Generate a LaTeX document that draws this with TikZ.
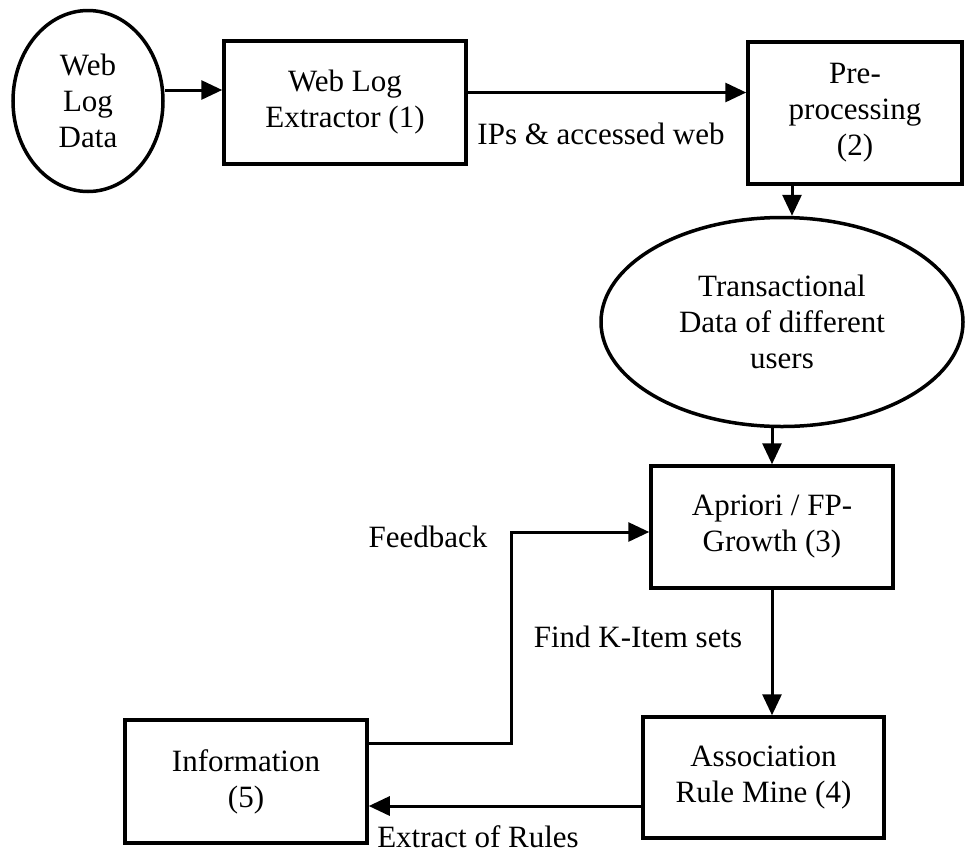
\documentclass[tikz,border=0pt]{standalone}
\usepackage{fontspec}
\setmainfont{Liberation Serif}
\usetikzlibrary{arrows.meta,shapes.geometric}
\begin{document}
\begin{tikzpicture}[x=1pt, y=-1pt,
    font=\fontsize{31}{36}\selectfont,
    box/.style={draw, rectangle, line width=3.5pt, align=center, inner sep=0pt},
    blob/.style={draw, ellipse, line width=3.5pt, align=center, inner sep=0pt},
    arr/.style={line width=3pt, -{Triangle[length=21pt,width=19pt]}},
    lbl/.style={anchor=base, inner sep=0pt}]
    \useasboundingbox (0,0) rectangle (966,855);

    % inputs
    \node[blob, minimum width=150pt, minimum height=181pt] (logdata) at (88,101) {Web\\Log\\Data};
    \node[box, minimum width=242pt, minimum height=123pt] (extractor) at (345,102.5) {Web Log\\Extractor (1)};
    \node[box, minimum width=214pt, minimum height=142pt] (prep) at (855,113) {Pre-\\processing\\(2)};
    \node[blob, minimum width=362pt, minimum height=209pt] (trans) at (782,322) {Transactional\\Data of different\\users};

    % mining
    \node[box, minimum width=242pt, minimum height=122pt] (algo) at (772,527) {Apriori / FP-\\Growth (3)};
    \node[box, minimum width=241pt, minimum height=121pt] (assoc) at (763.5,777.5) {Association\\Rule Mine (4)};
    \node[box, minimum width=242pt, minimum height=123pt] (info) at (246,781.5) {Information\\(5)};

    % connectors
    \draw[arr] ([yshift=11pt]logdata.east) -- ([yshift=12.5pt]extractor.west);
    \draw[arr] ([yshift=10pt]extractor.east) -- ([yshift=10pt]extractor.east -| prep.west);
    \draw[arr] ([xshift=-63pt]prep.south) -- ([xshift=-63pt]prep.south |- trans.north);
    \draw[arr] (trans.south -| algo.north) -- (algo.north);
    \draw[arr] (algo.south) -- (algo.south |- assoc.north);
    \draw[arr] ([yshift=-28.5pt]assoc.west) -- ([yshift=-28.5pt]assoc.west -| info.east);
    \draw[arr] ([yshift=38.5pt]info.east) -- ++(143,0) |- ([yshift=-5pt]algo.west);

    % labels
    \node[lbl] (ips) at (601,144) {IPs \& accessed web};
    \node[lbl] (feedback) at (428,547) {Feedback};
    \node[lbl] (kitems) at (638,647) {Find K-Item sets};
    \node[lbl] (rules) at (478,847) {Extract of Rules};
\end{tikzpicture}
\end{document}
